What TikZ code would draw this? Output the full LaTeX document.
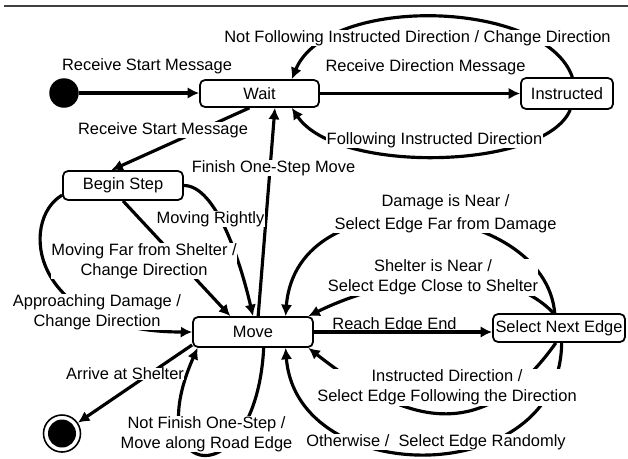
\documentclass[tikz,border=0pt]{standalone}
\usepackage{fontspec}
\setmainfont{Liberation Sans}
\usetikzlibrary{arrows.meta}
\tikzset{
  stbox/.style={draw, rounded corners=0.2cm, line width=2pt, inner sep=0.1cm,
    font=\fontsize{18.7}{22.8}\selectfont},
  trans/.style={line width=3.6pt, -{Latex[length=13pt,width=13pt]}},
  trlabel/.style={fill=white, inner sep=0.5pt, align=center,
    font=\fontsize{18.7}{22.8}\selectfont}
}
\begin{document}
\begin{tikzpicture}
  \useasboundingbox (0cm,0cm) rectangle (25.12cm,-18.32cm);
  \draw[line width=2pt, black!75] (0.16cm,-0.24cm) -- (25.12cm,-0.24cm);

  \node[circle, fill, minimum size=1.18cm, inner sep=0pt] (init) at (2.56cm,-3.72cm) {};
  \node[stbox, minimum width=4.76cm, minimum height=1.08cm] (wait) at (10.38cm,-3.74cm) {Wait};
  \node[stbox, minimum width=3.68cm, minimum height=1.24cm] (instr) at (22.68cm,-3.74cm) {Instructed};
  \node[stbox, minimum width=4.8cm, minimum height=1.16cm] (begin) at (4.92cm,-7.42cm) {Begin Step};
  \node[stbox, minimum width=4.8cm, minimum height=1.2cm] (move) at (10.12cm,-13.28cm) {Move};
  \node[stbox, minimum width=5.28cm, minimum height=1.12cm] (select) at (22.36cm,-13.12cm) {Select Next Edge};
  \node[circle, draw, line width=1.8pt, minimum size=1.48cm, inner sep=0pt] (final) at (2.48cm,-17.34cm) {};
  \fill (final.center) circle (0.56cm);

  \draw[trans] (init.east) -- (init.east -| wait.west);
  \draw[trans] (wait.east) -- (instr.west);
  \draw[trans] (instr.72) .. controls +(-1.08,3.12) and +(1.4,3.4) .. (wait.24);
  \draw[trans] (instr.-79) .. controls +(-1.0,-2.4) and +(1.8,-2.68) .. (wait.-24);
  \draw[trans] (wait.-125) -- (begin.127);
  \draw[trans] (move.72) -- (wait.-43);
  \draw[trans] (begin.east) .. controls +(1.28,0) and +(-0.52,2.24) .. (move.north);
  \draw[trans] (begin.south) -- (move.145);
  \draw[trans] (begin.-171) .. controls +(-1.72,-1.0) and +(-6.52,0) .. (move.west);
  \draw[trans] (move.-168) -- (final);
  \draw[trans] (move.-56) .. controls +(-0.32,-5.96) and +(-2.4,-5.4) .. (move.-164);
  \draw[trans] (move.east) -- (move.east -| select.west);
  \draw[trans] (select.106) .. controls +(-0.4,4.52) and +(0.44,5.64) .. (move.26);
  \draw[trans] (select.110) .. controls +(-2.24,2.32) and +(2.92,1.44) .. (move.16);
  \draw[trans] (select.-102) .. controls +(-3.04,-4.28) and +(3.72,-2.92) .. (move.-16);
  \draw[trans] (select.-80) .. controls +(-0.04,-5.92) and +(0.44,-5.64) .. (move.-26);

  \node[trlabel] (lstart) at (5.88cm,-2.64cm) {Receive Start Message};
  \node[trlabel] (ldirmsg) at (17.02cm,-2.68cm) {Receive Direction Message};
  \node[trlabel] (lnotfollow) at (16.7cm,-1.52cm) {Not Following Instructed Direction / Change Direction};
  \node[trlabel] (lfollow) at (17.38cm,-5.6cm) {Following Instructed Direction};
  \node[trlabel] (lstart2) at (6.52cm,-5.2cm) {Receive Start Message};
  \node[trlabel] (lfinish) at (10.94cm,-6.72cm) {Finish One-Step Move};
  \node[trlabel] (lright) at (8.42cm,-8.76cm) {Moving Rightly};
  \node[trlabel] (lfar) at (5.76cm,-10.44cm) {Moving Far from Shelter /\\Change Direction};
  \node[trlabel] (lapproach) at (3.88cm,-12.48cm) {Approaching Damage /\\Change Direction};
  \node[trlabel] (larrive) at (5.0cm,-14.96cm) {Arrive at Shelter};
  \node[trlabel] (lnotfinish) at (8.26cm,-17.36cm) {Not Finish One-Step /\\Move along Road Edge};
  \node[trlabel, fill=none] (lreach) at (15.78cm,-13.02cm) {Reach Edge End};
  \node[trlabel] (ldamage) at (17.82cm,-8.54cm) {Damage is Near /\\[0.12cm]Select Edge Far from Damage};
  \node[trlabel] (lshelter) at (17.32cm,-11.1cm) {Shelter is Near /\\Select Edge Close to Shelter};
  \node[trlabel] (linstr) at (17.88cm,-15.5cm) {Instructed Direction /\\Select Edge Following the Direction};
  \node[trlabel] (lother) at (17.44cm,-17.68cm) {Otherwise /\ \ Select Edge Randomly};
\end{tikzpicture}
\end{document}
